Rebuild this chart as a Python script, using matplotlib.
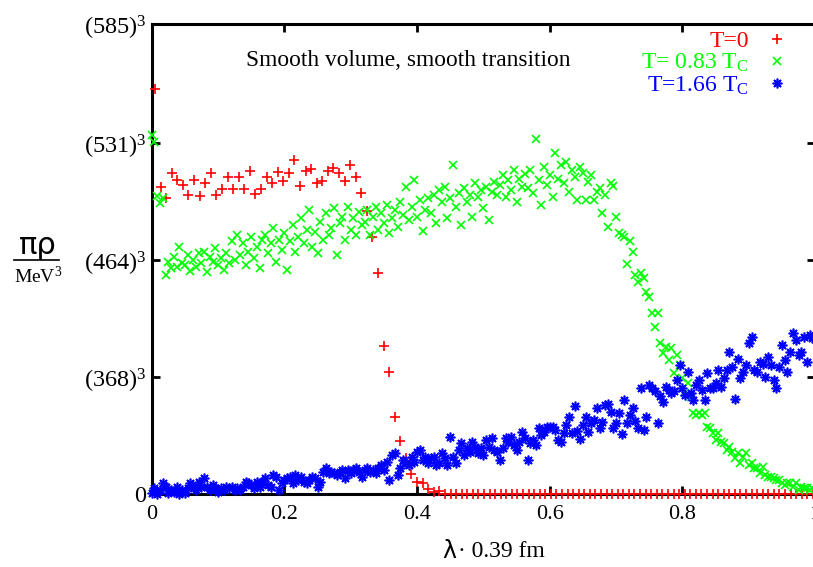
import numpy as np
import matplotlib
matplotlib.use("Agg")
import matplotlib.pyplot as plt

plt.rcParams['font.family'] = ['Liberation Serif', 'DejaVu Serif']
plt.rcParams['mathtext.fontset'] = 'custom'
plt.rcParams['mathtext.rm'] = 'Liberation Serif'
plt.rcParams['mathtext.it'] = 'Liberation Serif:italic'

# rho in units of 10^6 MeV^3, lambda in units of 0.39 fm
red_rho = [172.5, 130.7, 126.1, 136.7, 133.7, 131.6, 127.5, 133.7, 127.0, 132.7,
           136.7, 127.5, 129.9, 135.3, 130.0, 135.3, 130.0, 137.6, 127.9, 130.2,
           135.3, 132.7, 137.1, 133.3, 137.0, 142.4, 131.4, 137.8, 138.4, 132.7,
           133.5, 137.8, 139.1, 136.9, 133.5, 140.1, 135.3, 128.5, 120.8, 109.7,
           94.4, 63.2, 52.0, 33.0, 22.7, 15.6, 8.6, 5.4, 4.7, 2.3,
           0.85, 1.5, 0.3] + [0.0] * 66

green_rho = [153.0, 150.0, 127.0, 124.0, 126.0,
             93.4, 99.1, 96.2, 101.2, 96.9, 105.5, 98.4, 97.6, 101.9, 95.2, 99.8, 96.9,
             102.6, 98.4, 103.4, 94.8, 101.2, 99.1, 104.8, 97.6, 100.5, 95.5, 102.6, 98.4,
             107.7, 99.8, 110.4, 101.9, 106.9, 97.6, 103.4, 109.8, 100.5, 105.5, 96.2, 108.4,
             110.4, 102.6, 106.9, 113.3, 99.1, 108.4, 104.1, 111.2, 95.5, 107.7, 114.7, 103.4,
             109.8, 117.6, 106.9, 112.6, 121.1, 105.5, 111.9, 102.6, 116.1, 108.4, 119.7, 110.4,
             113.3, 121.8, 101.9, 115.4, 118.3, 108.4, 122.5, 112.6, 117.6, 110.4, 120.4, 114.7,
             116.1, 121.1, 110.4, 118.3, 122.5, 112.6, 119.7, 115.4, 123.2, 111.2, 117.6, 121.1,
             114.0, 124.6, 119.0, 131.0, 116.8, 122.5, 133.8, 118.3, 125.3, 112.0, 121.1, 126.0,
             119.7, 127.5, 115.4, 129.6, 124.6, 131.0, 117.6, 126.0, 140.2, 122.5, 128.2, 114.7,
             130.3, 124.6, 127.5, 118.3, 132.4, 126.8, 129.6, 121.8, 131.0, 116.8, 128.9, 133.1,
             127.5, 131.7, 136.0, 126.8, 133.8, 129.6, 138.1, 124.6, 134.5, 131.0, 136.6, 130.3,
             138.1, 128.2, 151.2, 133.8, 123.2, 139.5, 131.7, 136.0, 126.8, 145.2, 134.5, 140.2,
             132.4, 141.5, 128.9, 138.1, 135.2, 125.3, 139.5,
             136.8, 125.3, 133.0, 136.0, 125.3, 128.9, 130.5, 119.8, 127.5, 113.9,
             132.6, 131.3, 118.1, 111.3, 110.4, 109.5, 98.1, 108.0, 103.3, 93.4,
             90.5, 94.2, 92.0, 86.3, 84.0, 77.3, 71.4, 77.2, 64.3, 60.0,
             62.9, 57.2, 62.2, 51.5, 59.3, 55.1, 49.4, 43.0, 47.3, 41.6,
             34.5, 33.8, 34.5, 33.8, 34.5, 28.8, 28.1, 26.0, 23.1, 26.0,
             22.4, 21.7, 18.9, 20.3, 18.1, 15.3, 17.5, 13.2, 16.0, 17.5,
             12.5, 13.2, 11.1, 11.1, 8.9, 11.8, 8.2, 7.5, 7.5, 6.8,
             6.1, 6.0, 4.7, 4.0, 4.7, 4.7, 3.2, 4.7, 1.8, 3.2,
             2.6, 2.7, 2.0, 2.5]

blue_rho = [0.5, 2.5, 0.0, 1.8, 4.7, 3.3, 0.4, 1.8, 1.1, 3.3, 0.0, 1.8, 0.4, 2.5,
            4.7, 3.3, 1.8, 5.4, 3.3, 6.8, 3.3, 1.8, 4.0, 2.5, 1.1, 2.5, 1.8, 3.3, 2.5, 3.3,
            1.8, 2.5, 1.8, 3.3,
            5.4, 4.7, 4.0, 2.5, 5.4, 3.3, 5.4, 6.8, 4.0, 3.3, 8.2, 7.5, 1.8, 4.7,
            6.1, 6.8, 7.5, 4.7, 8.2, 6.1, 7.5, 5.4, 4.7, 6.1, 7.5, 6.8, 3.3, 5.4, 9.7, 11.1, 8.9,
            9.7, 8.9, 8.2, 9.7, 10.4, 6.8, 10.4, 8.9, 10.4, 11.1, 9.7, 7.5, 10.4, 11.1, 9.7,
            10.4, 8.9,
            11.1, 12.5, 10.4, 13.9, 6.1, 16.8, 17.5, 8.2,
            11.1, 14.6, 13.2, 12.5, 16.0, 13.9, 18.2, 18.9, 14.6, 16.0, 13.2, 15.3, 16.0, 12.5,
            13.2, 17.4, 15.3, 12.5, 24.3, 16.0, 13.2, 18.9, 21.7,
            16.7, 19.6, 18.2, 22.4, 20.3, 17.5, 19.6, 16.7, 23.1, 20.3, 23.8, 18.9, 18.2, 14.6,
            19.6, 23.8, 22.4, 24.5, 21.0, 18.9, 22.4, 26.6, 23.8, 14.6, 21.7, 23.1, 21.0, 28.1,
            25.2, 26.6, 28.8,
            28.8, 28.8, 27.4, 23.1, 22.4, 26.2, 29.5, 33.0, 26.2, 37.6, 27.0, 23.4, 29.5, 33.0,
            26.6, 30.5, 31.6, 36.6, 28.1, 30.9, 37.9, 38.6, 35.0, 28.1,
            30.2, 34.5, 25.9, 40.1, 30.2, 33.8, 36.6, 31.2, 28.1, 45.2, 27.4, 33.0, 46.6, 45.2,
            43.8, 30.2, 41.7, 39.4, 45.9, 44.5, 43.1, 43.8, 48.7, 55.0,
            45.2, 42.4, 52.2, 43.1, 40.1, 46.6, 48.7, 44.5, 40.1, 51.5, 45.2, 45.2, 47.3, 52.8,
            45.9, 49.4, 52.8, 60.8, 54.3, 40.8, 57.8, 49.4, 52.2, 55.0,
            64.3, 67.2, 52.8, 52.2, 56.5, 55.7, 50.1, 58.5, 55.0, 48.7, 45.2, 54.3, 63.6, 57.0,
            52.2, 60.8, 68.5, 65.7, 59.2, 60.8, 67.2, 56.5, 67.9, 66.5]

lam_red = (np.arange(len(red_rho)) + 0.6) / 119
lam_green = np.arange(len(green_rho)) / 240
lam_blue = np.arange(len(blue_rho)) / 240

ytick_m = [0, 368, 464, 531, 585]
ytick_vals = [m**3 / 1e6 for m in ytick_m]
ytick_labels = ['0'] + [f'({m})$^3$' for m in ytick_m[1:]]

fig = plt.figure(figsize=(8.13, 5.67), dpi=100)
ax = fig.add_axes([0.1866, 0.1282, 0.816, 0.829])

ax.plot(lam_red, red_rho, ls='none', marker='+', ms=6.5, mew=1.2, color='#ff0000',
        label='T=0', clip_on=False, zorder=3)
ax.plot(lam_green, green_rho, ls='none', marker='x', ms=6, mew=1.2, color='#00ff00',
        label='T= 0.83 T$_\\mathrm{C}$', clip_on=False, zorder=3)
ax.plot(lam_blue, blue_rho, ls='none', marker=(8, 2, 0), ms=7, mew=1.2, color='#0000ff',
        label='T=1.66 T$_\\mathrm{C}$', clip_on=False, zorder=3)

ax.set_xlim(0, 1)
ax.set_ylim(0, 585**3 / 1e6)
ax.set_xticks([0, 0.2, 0.4, 0.6, 0.8, 1])
ax.set_xticklabels(['0', '0.2', '0.4', '0.6', '0.8', '1'])
ax.set_yticks(ytick_vals)
ax.set_yticklabels(ytick_labels)
ax.tick_params(direction='in', length=6, width=2, labelsize=16, top=True, right=True)
ax.tick_params(axis='x', pad=8)
ax.tick_params(axis='y', pad=4, labelsize=17.5)
for s in ax.spines.values():
    s.set_linewidth(2.2)

ax.text(0.386, 0.922, 'Smooth volume, smooth transition', transform=ax.transAxes,
        ha='center', va='center', fontsize=16.8)

leg = ax.legend(loc='upper right', bbox_to_anchor=(0.957, 0.987), frameon=False,
                markerfirst=False, handlelength=0.8, handletextpad=0.8,
                borderaxespad=0, borderpad=0, labelspacing=0.0, fontsize=17,
                labelcolor=['#ff0000', '#00ff00', '#0000ff'])

fig.text(0.047, 0.567, 'πρ', family='DejaVu Sans', fontsize=22, ha='center', va='center')
fig.add_artist(plt.Line2D([0.017, 0.073], [0.541, 0.541], color='black', lw=1.2,
                          transform=fig.transFigure))
fig.text(0.047, 0.513, 'MeV$^3$', fontsize=14, ha='center', va='center')

fig.text(0.561, 0.028, 'λ', family='DejaVu Sans', fontsize=17, ha='right', va='center')
fig.text(0.563, 0.028, '· 0.39 fm', fontsize=17, ha='left', va='center')

fig.savefig('out.png', dpi=100)
